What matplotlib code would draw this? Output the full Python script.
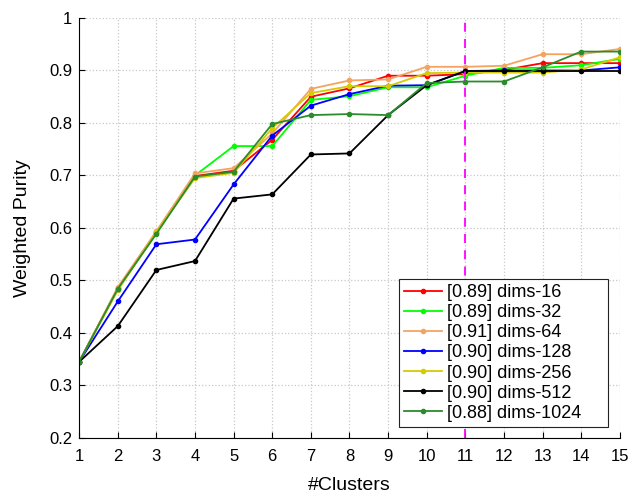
import numpy as np
import matplotlib
matplotlib.use('Agg')
import matplotlib.pyplot as plt

plt.rcParams['font.family'] = ['Liberation Sans', 'DejaVu Sans']

clusters = list(range(1, 16))

dims16 = [0.345, 0.485, 0.592, 0.699, 0.709, 0.768, 0.850, 0.866, 0.890, 0.890, 0.893, 0.901, 0.914, 0.914, 0.914]
dims32 = [0.345, 0.484, 0.590, 0.700, 0.756, 0.756, 0.844, 0.851, 0.868, 0.868, 0.890, 0.905, 0.905, 0.910, 0.922]
dims64 = [0.345, 0.487, 0.594, 0.704, 0.714, 0.780, 0.865, 0.881, 0.883, 0.907, 0.907, 0.909, 0.931, 0.931, 0.941]
dims128 = [0.345, 0.460, 0.569, 0.578, 0.683, 0.776, 0.833, 0.855, 0.871, 0.872, 0.899, 0.900, 0.900, 0.900, 0.906]
dims256 = [0.345, 0.481, 0.592, 0.695, 0.705, 0.790, 0.857, 0.870, 0.870, 0.895, 0.896, 0.896, 0.896, 0.902, 0.925]
dims512 = [0.345, 0.413, 0.520, 0.537, 0.656, 0.664, 0.740, 0.742, 0.815, 0.872, 0.899, 0.899, 0.899, 0.899, 0.899]
dims1024 = [0.345, 0.484, 0.589, 0.698, 0.707, 0.798, 0.815, 0.817, 0.815, 0.876, 0.879, 0.879, 0.906, 0.936, 0.936]

series = [dims16, dims32, dims64, dims128, dims256, dims512, dims1024]
labels = ['[0.89] dims-16', '[0.89] dims-32', '[0.91] dims-64', '[0.90] dims-128',
          '[0.90] dims-256', '[0.90] dims-512', '[0.88] dims-1024']
colors = ['#ff0000', '#00ff00', '#f4a460', '#0000ff', '#d4cc00', '#000000', '#2a8c2a']

best_k = 11

fig = plt.figure(figsize=(6.28, 4.94), dpi=100)
ax = fig.add_axes([0.126, 0.1134, 0.861, 0.8502])

for vals, lab, c in zip(series, labels, colors):
    ax.plot(clusters, vals, '.-', color=c, lw=1.3, ms=6, label=lab)

ax.axvline(best_k, color='#ff00ff', lw=1.3, ls=(0, (5, 4)))

ax.set_xlim(1, 15)
ax.set_ylim(0.2, 1.0)
ax.set_xticks(clusters)
ax.set_yticks(np.arange(0.2, 1.01, 0.1))
ax.set_yticklabels(['0.2', '0.3', '0.4', '0.5', '0.6', '0.7', '0.8', '0.9', '1'])
ax.tick_params(direction='in', labelsize=12, length=4)
ax.tick_params(axis='y', pad=5)
ax.tick_params(axis='x', pad=8)
ax.grid(True, ls=':', color='#c8c8c8', lw=0.9)
ax.spines['top'].set_visible(False)
ax.spines['right'].set_visible(False)
ax.set_xlabel('#Clusters', fontsize=14, labelpad=9)
ax.set_ylabel('Weighted Purity', fontsize=14, labelpad=13)

# box spans roughly x 399..608 px, y 280..427 px
leg = ax.legend(loc='lower left', bbox_to_anchor=(0.591, 0.026, 0.387, 0.35), mode='expand',
                fontsize=13, fancybox=False, framealpha=1, edgecolor='#222222',
                handlelength=2.1, labelspacing=0.17, borderpad=0.3, handletextpad=0.25,
                borderaxespad=0)
leg.get_frame().set_linewidth(0.8)

fig.savefig('out.png', dpi=100)
